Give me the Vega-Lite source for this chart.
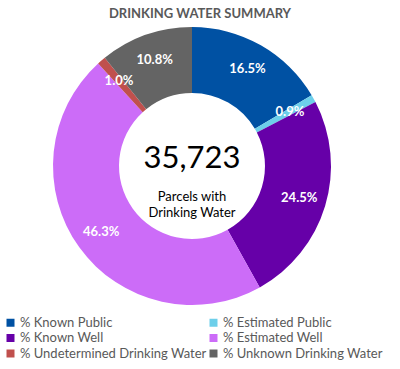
{
  "$schema": "https://vega.github.io/schema/vega-lite/v6.json",
  "autosize": {"type": "none"},
  "padding": {"left": 0, "top": 27, "right": 16, "bottom": 64},
  "width": 384,
  "height": 278,
  "background": "#ffffff",
  "title": {
    "text": "DRINKING WATER SUMMARY",
    "font": "Lato",
    "fontSize": 13,
    "fontWeight": "bold",
    "color": "#595959",
    "anchor": "middle",
    "frame": "group",
    "dx": 8,
    "offset": 6
  },
  "config": {"view": {"stroke": null}},
  "data": {
    "values": [
      {"category": "% Known Public", "pct": 0.165, "ord": 1},
      {"category": "% Estimated Public", "pct": 0.009, "ord": 2},
      {"category": "% Known Well", "pct": 0.245, "ord": 3},
      {"category": "% Estimated Well", "pct": 0.463, "ord": 4},
      {"category": "% Undetermined Drinking Water", "pct": 0.010, "ord": 5},
      {"category": "% Unknown Drinking Water", "pct": 0.108, "ord": 6}
    ]
  },
  "layer": [
    {
      "mark": {"type": "arc", "innerRadius": 73, "outerRadius": 139},
      "encoding": {
        "theta": {"field": "pct", "type": "quantitative", "stack": true},
        "order": {"field": "ord", "type": "quantitative"},
        "color": {
          "field": "category",
          "type": "nominal",
          "scale": {
            "domain": ["% Known Public", "% Known Well", "% Undetermined Drinking Water", "% Estimated Public", "% Estimated Well", "% Unknown Drinking Water"],
            "range": ["#0051A3", "#6600A8", "#C0504D", "#6DCFEA", "#CC6CF8", "#646464"]
          },
          "legend": {
            "title": null,
            "orient": "none",
            "legendX": 4,
            "legendY": 289,
            "padding": 0,
            "columns": 2,
            "symbolType": "square",
            "symbolSize": 64,
            "symbolStrokeWidth": 0,
            "labelFont": "Lato",
            "labelFontSize": 13,
            "labelColor": "#595959",
            "labelOffset": 3,
            "columnPadding": -4,
            "rowPadding": 1.5,
            "labelLimit": 300
          }
        }
      }
    },
    {
      "mark": {"type": "text", "radius": 112, "font": "Lato", "fontSize": 13, "fontWeight": "bold", "color": "#ffffff"},
      "encoding": {
        "theta": {"field": "pct", "type": "quantitative", "stack": true},
        "order": {"field": "ord", "type": "quantitative"},
        "text": {"field": "pct", "type": "quantitative", "format": ".1%"}
      }
    },
    {
      "data": {"values": [{"t": "35,723"}]},
      "mark": {"type": "text", "font": "Lato", "fontSize": 31, "color": "#000000", "baseline": "middle", "dy": -7},
      "encoding": {"text": {"field": "t", "type": "nominal"}}
    },
    {
      "data": {"values": [{"t": "Parcels with"}]},
      "mark": {"type": "text", "font": "Lato", "fontSize": 13, "color": "#000000", "baseline": "middle", "dy": 31},
      "encoding": {"text": {"field": "t", "type": "nominal"}}
    },
    {
      "data": {"values": [{"t": "Drinking Water"}]},
      "mark": {"type": "text", "font": "Lato", "fontSize": 13, "color": "#000000", "baseline": "middle", "dy": 47},
      "encoding": {"text": {"field": "t", "type": "nominal"}}
    }
  ]
}
